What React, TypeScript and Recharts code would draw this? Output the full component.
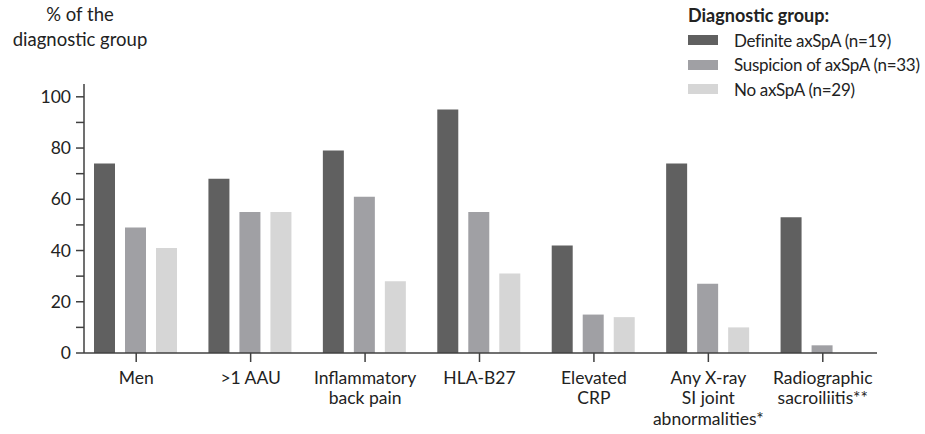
import React from 'react';
import { BarChart, Bar, XAxis, YAxis, Legend } from 'recharts';

const categories = [
  'Men',
  '>1 AAU',
  'Inflammatory\nback pain',
  'HLA-B27',
  'Elevated\nCRP',
  'Any X-ray\nSI joint\nabnormalities*',
  'Radiographic\nsacroiliitis**',
];
const definite = [74, 68, 79, 95, 42, 74, 53];
const suspicion = [49, 55, 61, 55, 15, 27, 3];
const noAxspa = [41, 55, 28, 31, 14, 10, 0];
const yTicks = [0, 10, 20, 30, 40, 50, 60, 70, 80, 90, 100];

const seriesInfo = [
  { key: 'definite', name: 'Definite axSpA (n=19)', color: '#606060' },
  { key: 'suspicion', name: 'Suspicion of axSpA (n=33)', color: '#a0a0a4' },
  { key: 'noAxspa', name: 'No axSpA (n=29)', color: '#d6d6d6' },
];

const data = categories.map((c, i) => ({
  category: c,
  definite: definite[i],
  suspicion: suspicion[i],
  noAxspa: noAxspa[i],
}));

const FONT = 'Lato, "Open Sans", sans-serif';
const TEXT = '#222';

const YTick = ({ x, y, payload }: any) =>
  payload.value % 20 === 0 ? (
    <text x={x} y={y} dy={6} textAnchor="end" fontSize={17.5} fill={TEXT} fontFamily={FONT}>
      {payload.value}
    </text>
  ) : (
    <g />
  );

const XTick = ({ x, y, payload }: any) => {
  const lines = String(payload.value).split('\n');
  return (
    <text x={x} y={y} textAnchor="middle" fontSize={17.5} fill={TEXT} fontFamily={FONT}>
      {lines.map((l, i) => (
        <tspan key={i} x={x} dy={i === 0 ? 19.5 : 20.7}>
          {l}
        </tspan>
      ))}
    </text>
  );
};

const LegendBox = () => (
  <div style={{ fontFamily: FONT, color: TEXT, fontSize: 17, letterSpacing: -0.3, whiteSpace: 'nowrap', width: 235, textAlign: 'left' }}>
    <div style={{ fontWeight: 700, fontSize: 18, letterSpacing: 0, height: 26, lineHeight: '26px' }}>Diagnostic group:</div>
    {seriesInfo.map((s) => (
      <div key={s.key} style={{ display: 'flex', alignItems: 'center', height: 24.5 }}>
        <span style={{ width: 30, height: 10, background: s.color, display: 'inline-block', marginRight: 16, flex: 'none' }} />
        <span>{s.name}</span>
      </div>
    ))}
  </div>
);

export default function App() {
  return (
    <div style={{ position: 'absolute', left: 0, top: 0, width: 925, height: 434, background: '#fff' }}>
      <div
        style={{
          position: 'absolute',
          left: 0,
          top: 2,
          width: 160,
          textAlign: 'center',
          fontFamily: FONT,
          fontSize: 18.5,
          lineHeight: '25px',
          color: TEXT,
        }}
      >
        % of the
        <br />
        diagnostic group
      </div>
      <BarChart
        width={925}
        height={434}
        data={data}
        margin={{ top: 84, right: 48, bottom: 21, left: 24 }}
        barCategoryGap={15}
        barGap={10}
      >
        <XAxis
          dataKey="category"
          interval={0}
          height={60}
          padding={{ left: -5, right: -3 }}
          tick={<XTick />}
          tickSize={9}
          tickMargin={2}
          axisLine={{ stroke: '#404040', strokeWidth: 1.5 }}
          tickLine={{ stroke: '#404040', strokeWidth: 1.5 }}
        />
        <YAxis
          width={60}
          domain={[0, 105]}
          ticks={yTicks}
          interval={0}
          tick={<YTick />}
          tickSize={8}
          tickMargin={5}
          axisLine={{ stroke: '#404040', strokeWidth: 1.5 }}
          tickLine={{ stroke: '#404040', strokeWidth: 1.5 }}
        />
        <Legend
          layout="vertical"
          align="center"
          verticalAlign="middle"
          content={<LegendBox />}
          wrapperStyle={{ left: 688, top: 2, width: 235 }}
        />
        {seriesInfo.map((s) => (
          <Bar key={s.key} dataKey={s.key} name={s.name} fill={s.color} isAnimationActive={false} />
        ))}
      </BarChart>
    </div>
  );
}
